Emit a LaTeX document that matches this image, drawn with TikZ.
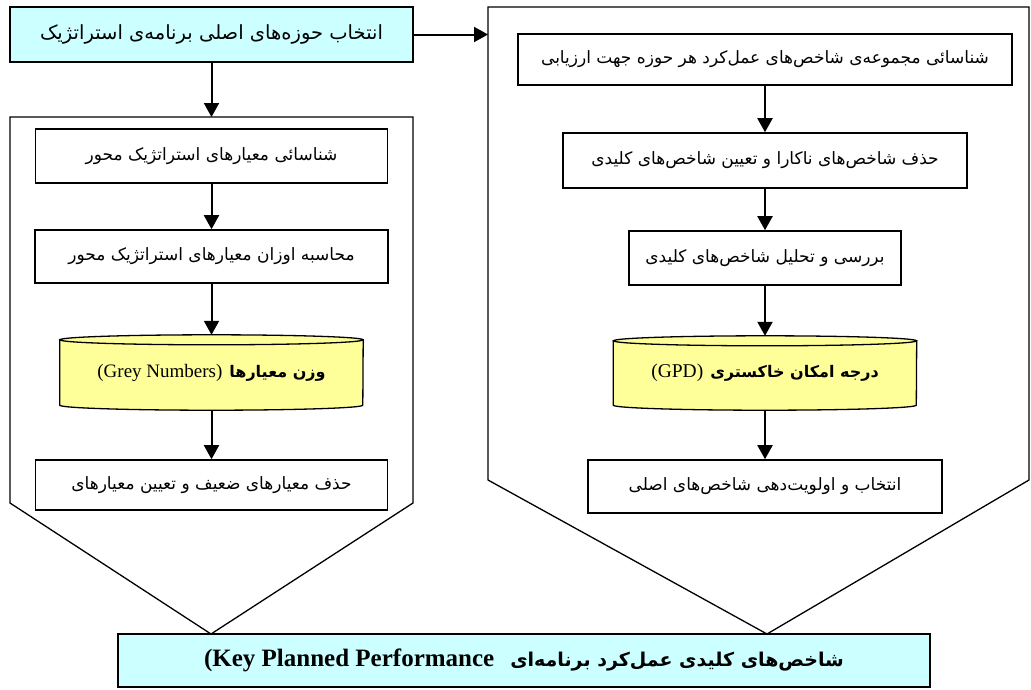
\documentclass[tikz,border=0pt]{standalone}
\usepackage{fontspec}
\setmainfont{Liberation Serif}
\newfontfamily\fa[Script=Arabic]{DejaVu Sans}
\TeXXeTstate=1
\usetikzlibrary{arrows.meta,calc}
\definecolor{boxcyan}{HTML}{CCFFFF}
\definecolor{cylyellow}{HTML}{FFFF99}
\newcommand{\fatxt}[1]{{\fa\beginR #1\endR}}
\pgfdeclarelayer{background}
\pgfsetlayers{background,main}
\begin{document}
\begin{tikzpicture}[x=1pt,y=-1pt,
  box/.style={draw=black, line width=1.6pt, fill=white, inner sep=0pt, align=center,
    font=\fontsize{17}{20}\selectfont},
  cyanbox/.style={box, fill=boxcyan},
  cylnode/.style={inner sep=0pt, align=center},
  cylbody/.style={fill=cylyellow, draw=black, line width=1.3pt},
  frame/.style={draw=black, line width=1.3pt, line join=miter},
  arr/.style={draw=black, line width=2pt, -{Triangle[length=14pt,width=15pt]}}
]
\useasboundingbox (0,0) rectangle (1031,689);

% outer pentagon frames
\draw[frame] (10,117) -- (413,117) -- (413,503) -- (211,634) -- (10,503) -- cycle;
\draw[frame] (488,7) -- (1029,7) -- (1029,480) -- (767,634) -- (488,480) -- cycle;
\coordinate (LPtop) at (211.5,117);
\coordinate (RPin) at (488,34.5);

% top box
\node[cyanbox, minimum width=403pt, minimum height=55pt, font=\fontsize{19.5}{23}\selectfont] (A) at (211.5,34.5)
  {\fatxt{انتخاب حوزه‌های اصلی برنامه‌ی استراتژیک}};

% left column
\node[box, minimum width=352pt, minimum height=54pt] (L1) at (211.5,156)
  {\fatxt{شناسائی معیارهای استراتژیک محور}};
\node[box, minimum width=353pt, minimum height=53pt] (L2) at (211.5,256.5)
  {\fatxt{محاسبه اوزان معیارهای استراتژیک محور}};
\node[cylnode, minimum width=303pt, minimum height=75pt] (LC) at (211.5,372.5)
  {{\fontsize{19}{22}\selectfont (Grey Numbers)}\hspace{7pt}{\fontsize{16}{20}\selectfont\bfseries\fatxt{وزن معیارها}}};
\node[box, minimum width=352pt, minimum height=50pt] (L4) at (211.5,485)
  {\fatxt{حذف معیارهای ضعیف و تعیین معیارهای}};

% right column
\node[box, minimum width=494pt, minimum height=51pt] (R1) at (765,59.5)
  {\fatxt{شناسائی مجموعه‌ی شاخص‌های عمل‌کرد هر حوزه جهت ارزیابی}};
\node[box, minimum width=404pt, minimum height=55pt] (R2) at (765,160.5)
  {\fatxt{حذف شاخص‌های ناکارا و تعیین شاخص‌های کلیدی}};
\node[box, minimum width=272pt, minimum height=54pt] (R3) at (765,258)
  {\fatxt{بررسی و تحلیل شاخص‌های کلیدی}};
\node[cylnode, minimum width=303pt, minimum height=74pt] (RC) at (765,373)
  {{\fontsize{19.5}{22}\selectfont (GPD)}\hspace{7pt}{\fontsize{16}{20}\selectfont\bfseries\fatxt{درجه امکان خاکستری}}};
\node[box, minimum width=354pt, minimum height=53pt] (R5) at (765,486.5)
  {\fatxt{انتخاب و اولویت‌دهی شاخص‌های اصلی}};

% bottom box
\node[cyanbox, minimum width=812pt, minimum height=53pt] (B) at (524,660.5)
  {{\fontsize{25}{28}\selectfont\bfseries (Key Planned Performance}\hspace{16pt}{\fontsize{19}{22}\selectfont\bfseries\fatxt{شاخص‌های کلیدی عمل‌کرد برنامه‌ای}}};

% cylinders
\begin{pgfonlayer}{background}
\foreach \c in {LC,RC}{
  \path[cylbody] ($(\c.north west)+(0,5)$) -- ($(\c.south west)+(0,-5)$)
     arc[start angle=180, end angle=0, x radius=151.5, y radius=5]
     -- ($(\c.north east)+(0,5)$) -- cycle;
  \path[cylbody] ($(\c.north)+(0,5)$) ellipse[x radius=151.5, y radius=5];
}
\end{pgfonlayer}

% connectors
\draw[arr] (A.east) -- (RPin);
\draw[arr] (A.south) -- (LPtop);
\draw[arr] (L1.south) -- (L2.north);
\draw[arr] (L2.south) -- (LC.north);
\draw[arr] (LC.south) -- (L4.north);
\draw[arr] (R1.south) -- (R2.north);
\draw[arr] (R2.south) -- (R3.north);
\draw[arr] (R3.south) -- (RC.north);
\draw[arr] (RC.south) -- (R5.north);
\end{tikzpicture}
\end{document}
